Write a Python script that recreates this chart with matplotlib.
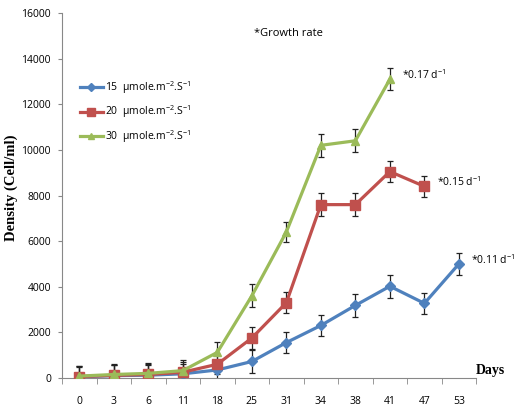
import numpy as np
from matplotlib import pyplot as plt
from matplotlib.lines import Line2D

days = ["0", "3", "6", "11", "18", "25", "31", "34", "38", "41", "47", "53"]

dens_15 = [50, 100, 120, 180, 350, 720, 1550, 2300, 3180, 4020, 3270, 5000]
err_15 = [450, 450, 450, 450, 450, 500, 450, 450, 500, 500, 450, 500]

dens_20 = [60, 110, 150, 250, 600, 1750, 3300, 7600, 7600, 9050, 8400]
err_20 = [450, 450, 450, 450, 450, 500, 450, 500, 500, 450, 450]

dens_30 = [80, 150, 200, 320, 1120, 3600, 6400, 10200, 10400, 13100]
err_30 = [450, 450, 450, 450, 450, 500, 450, 500, 500, 480]

labels = ["15  \u00b5mole.m$^{-2}$.S$^{-1}$",
          "20  \u00b5mole.m$^{-2}$.S$^{-1}$",
          "30  \u00b5mole.m$^{-2}$.S$^{-1}$"]
rates = ["*0.11 d$^{-1}$", "*0.15 d$^{-1}$", "*0.17 d$^{-1}$"]

colors = ["#4F81BD", "#C0504D", "#9BBB59"]
markers = ["D", "s", "^"]
msizes = [5, 7, 6]

plt.rcParams['font.family'] = ['Open Sans', 'DejaVu Sans']
plt.rcParams['mathtext.fontset'] = 'custom'
plt.rcParams['mathtext.rm'] = 'Open Sans'
plt.rcParams['mathtext.default'] = 'rm'

fig = plt.figure(figsize=(5.17, 4.09), dpi=100)
ax = fig.add_axes([0.12, 0.076, 0.801, 0.892])

series = [(dens_15, err_15), (dens_20, err_20), (dens_30, err_30)]
handles = []
for i, (d, e) in enumerate(series):
    x = np.arange(len(d))
    ax.errorbar(x, d, yerr=e, fmt="none", ecolor="#222222", elinewidth=0.9,
                capsize=2.5, capthick=0.9, zorder=2)
    ax.plot(x, d, color=colors[i], lw=2.3, marker=markers[i], ms=msizes[i],
            mec=colors[i], zorder=3)
    handles.append(Line2D([], [], color=colors[i], lw=2.3, marker=markers[i],
                          ms=msizes[i] - 1))

# growth rate labels next to last point
for i, (d, e) in enumerate(series):
    ax.annotate(rates[i], (len(d) - 1, d[-1]), xytext=(9, 3),
                textcoords="offset points", fontsize=7.5, va="center")

ax.text(0.546, 0.945, "*Growth rate", transform=ax.transAxes, fontsize=8,
        ha="center", va="center")

ax.set_xlim(-0.5, len(days) - 0.5)
ax.set_ylim(0, 16000)
ax.set_yticks(np.arange(0, 16001, 2000))
ax.set_xticks(np.arange(len(days)))
ax.set_xticklabels(days, fontsize=7.5)
ax.set_xticks(np.arange(len(days) + 1) - 0.5, minor=True)
ax.tick_params(axis="x", which="major", length=0, pad=13)
ax.tick_params(axis="x", which="minor", length=4, color="#888888")
ax.tick_params(axis="y", length=3, color="#888888", labelsize=7.5, pad=5)

for s in ["top", "right"]:
    ax.spines[s].set_visible(False)
for s in ["left", "bottom"]:
    ax.spines[s].set_color("#888888")
    ax.spines[s].set_linewidth(0.8)

ax.set_ylabel("Density (Cell/ml)", family="Liberation Serif", weight="bold",
              fontsize=10.5)
ax.yaxis.set_label_coords(-0.106, 0.52)
ax.text(1.035, 0.02, "Days", transform=ax.transAxes, family="Liberation Serif",
        weight="bold", fontsize=10, ha="center", va="center")

ax.legend(handles, labels, loc="upper left", bbox_to_anchor=(0.02, 0.845),
          frameon=False, fontsize=7.5, handlelength=2.2, handletextpad=0.2,
          labelspacing=0.75)

fig.savefig("out.png", dpi=100)
